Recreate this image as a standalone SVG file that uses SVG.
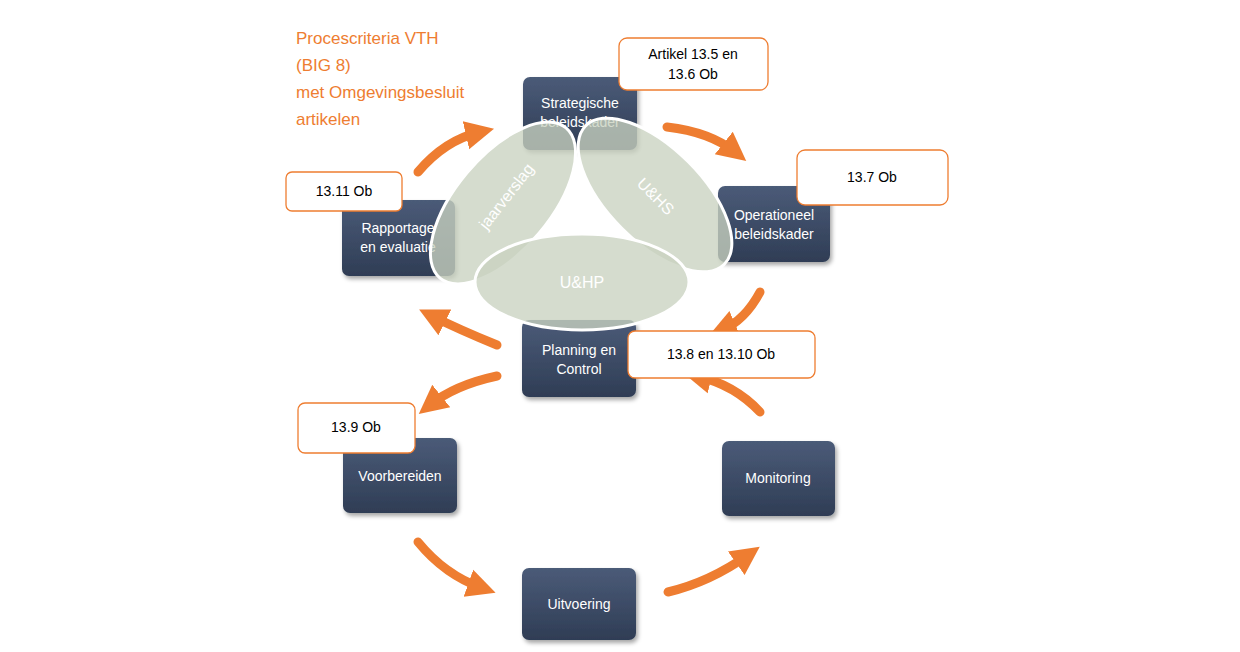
<svg xmlns="http://www.w3.org/2000/svg" width="1240" height="652" viewBox="0 0 1240 652">
<defs>
<linearGradient id="g" x1="0" y1="0" x2="0" y2="1"><stop offset="0" stop-color="#4b5b78"/><stop offset="1" stop-color="#2f3d55"/></linearGradient>
<marker id="ah" viewBox="0 0 10 10" refX="5" refY="5" markerWidth="3.2" markerHeight="3.6" orient="auto" markerUnits="strokeWidth"><path d="M0,0 L10,5 L0,10 Z" fill="#ee7d31"/></marker>
<filter id="sh" x="-10%" y="-10%" width="130%" height="130%"><feDropShadow dx="2" dy="3" stdDeviation="2" flood-opacity="0.35"/></filter>
</defs>
<style>
.n{fill:url(#g);filter:url(#sh)}
.nt{font-family:"Liberation Sans",Arial,sans-serif;font-size:14px;fill:#fff;text-anchor:middle}
.c{fill:#fff;stroke:#ee7d31;stroke-width:1.3}
.ct{font-family:"Liberation Sans",Arial,sans-serif;font-size:14px;fill:#000;text-anchor:middle}
.a{fill:none;stroke:#ee7d31;stroke-width:9;stroke-linecap:round;marker-end:url(#ah)}
.e{fill:#c9d2c0;fill-opacity:0.78;stroke:#fff;stroke-width:3}
.et{font-family:"Liberation Sans",Arial,sans-serif;font-size:16px;fill:#fff;text-anchor:middle}
.t{font-family:"Liberation Sans",Arial,sans-serif;font-size:17px;fill:#ee7d31}
</style>
<rect width="1240" height="652" fill="#fff"/>
<text class="t" x="296" y="44">Procescriteria VTH</text>
<text class="t" x="296" y="71">(BIG 8)</text>
<text class="t" x="296" y="98">met Omgevingsbesluit</text>
<text class="t" x="296" y="125"> artikelen</text>
<g id="connectors">
<path class="a" d="M418,172 Q445,140 480,132"/>
<path class="a" d="M667,127 Q710,132 735,152"/>
<path class="a" d="M760,292 Q745,320 722,330"/>
<path class="a" d="M760,412 Q735,385 697,376"/>
<path class="a" d="M497,345 Q460,330 432,316"/>
<path class="a" d="M497,376 Q455,385 430,405"/>
<path class="a" d="M418,542 Q445,575 482,588"/>
<path class="a" d="M668,592 Q710,582 748,555"/>
</g>
<g id="n-strat"><rect class="n" x="523" y="77" width="114" height="73" rx="7"/><text class="nt" x="580" y="108">Strategische</text><text class="nt" x="580" y="127">beleidskader</text></g>
<g id="n-oper"><rect class="n" x="718" y="186" width="112" height="76" rx="7"/><text class="nt" x="774" y="220">Operationeel</text><text class="nt" x="774" y="239">beleidskader</text></g>
<g id="n-rapp"><rect class="n" x="342" y="200" width="113" height="76" rx="7"/><text class="nt" x="398" y="233">Rapportage</text><text class="nt" x="398" y="252">en evaluatie</text></g>
<g id="n-plan"><rect class="n" x="522" y="320" width="114" height="77" rx="7"/><text class="nt" x="579" y="355">Planning en</text><text class="nt" x="579" y="374">Control</text></g>
<g id="n-voor"><rect class="n" x="343" y="438" width="114" height="75" rx="7"/><text class="nt" x="400" y="481">Voorbereiden</text></g>
<g id="n-moni"><rect class="n" x="722" y="441" width="113" height="75" rx="7"/><text class="nt" x="778" y="483">Monitoring</text></g>
<g id="n-uitv"><rect class="n" x="522" y="568" width="114" height="72" rx="7"/><text class="nt" x="579" y="609">Uitvoering</text></g>
<g id="ellipses">
<g id="e-jaar"><ellipse class="e" cx="503" cy="203" rx="98" ry="47" transform="rotate(-50 503 203)"/><text class="et" transform="translate(506,196) rotate(-52)" dy="6">jaarverslag</text></g>
<g id="e-uhs"><ellipse class="e" cx="655" cy="195" rx="98" ry="47" transform="rotate(45 655 195)"/><text class="et" transform="translate(656,196) rotate(45)" dy="6">U&amp;HS</text></g>
<g id="e-uhp"><ellipse class="e" cx="582" cy="282" rx="107" ry="48"/><text class="et" x="582" y="288">U&amp;HP</text></g>
</g>
<g id="c-art"><rect class="c" x="619" y="38" width="149" height="52" rx="8"/><text class="ct" x="693" y="59">Artikel 13.5 en</text><text class="ct" x="693" y="79">13.6 Ob</text></g>
<g id="c-137"><rect class="c" x="797" y="150" width="151" height="55" rx="8"/><text class="ct" x="872" y="182">13.7 Ob</text></g>
<g id="c-1311"><rect class="c" x="286" y="172" width="116" height="39" rx="6"/><text class="ct" x="344" y="196">13.11 Ob</text></g>
<g id="c-138"><rect class="c" x="628" y="331" width="187" height="47" rx="7"/><text class="ct" x="721" y="359">13.8 en 13.10 Ob</text></g>
<g id="c-139"><rect class="c" x="298" y="403" width="117" height="50" rx="7"/><text class="ct" x="356" y="432">13.9 Ob</text></g>
</svg>
